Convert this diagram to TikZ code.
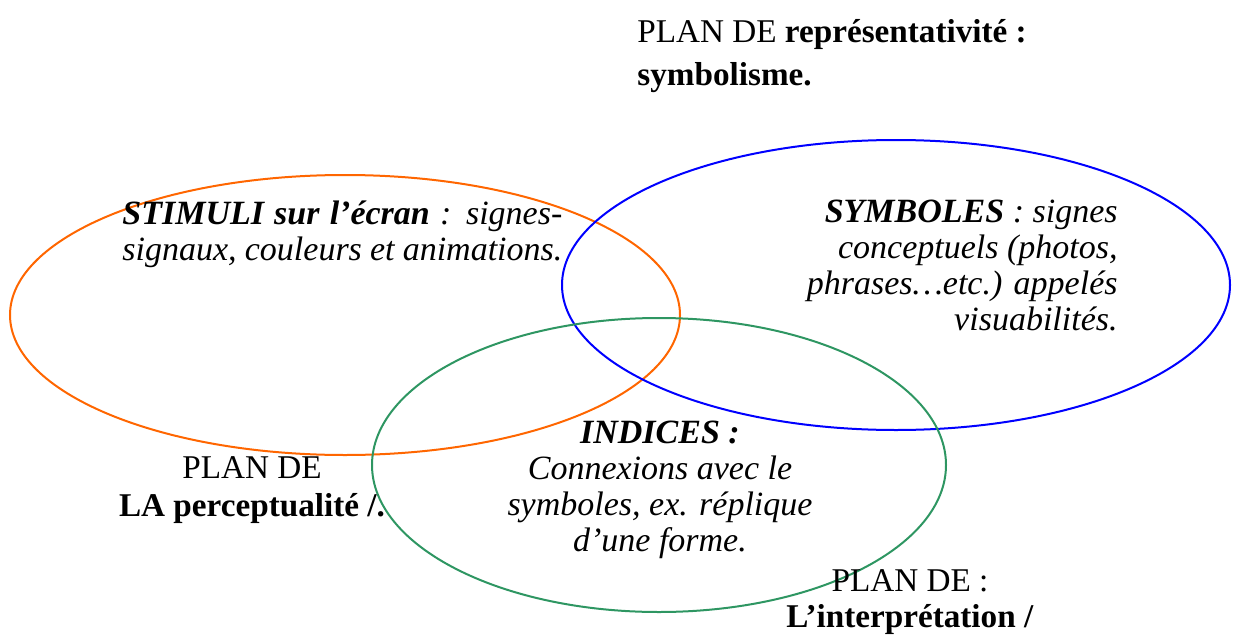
\documentclass[tikz,border=0pt]{standalone}
\usepackage{fontspec}
\setmainfont{Liberation Serif}
\definecolor{stimorange}{RGB}{255,102,0}
\definecolor{symblue}{RGB}{0,0,255}
\definecolor{indgreen}{RGB}{46,150,98}

\begin{document}
\begin{tikzpicture}[x=0.5pt,y=-0.5pt,
    plane/.style={line width=1pt},
    txt/.style={inner sep=0pt, font=\fontsize{17}{18}\selectfont\itshape},
    plantxt/.style={inner sep=0pt, font=\fontsize{16.6}{21.5}\selectfont}]

    \useasboundingbox (0,0) rectangle (1237,637);

    % Ellipses
    \draw[plane, stimorange] (345,315) ellipse [x radius=167.5pt, y radius=70pt];
    \draw[plane, symblue] (896,285) ellipse [x radius=167pt, y radius=72.5pt];
    \draw[plane, indgreen] (659,465) ellipse [x radius=143.5pt, y radius=73.5pt];

    % top plan
    \node[plantxt, anchor=north west, align=left] (planrep) at (637,19)
        {PLAN DE \textbf{représentativité :}\\\textbf{symbolisme.}};

    % text in the ellipses
    \node[txt, anchor=north west, text width=220pt, align=justify] (stimuli) at (122,200)
        {\textbf{STIMULI sur l’écran} : signes-\linebreak signaux, couleurs et animations.};

    \node[txt, anchor=north east, align=right] (symboles) at (1118,200)
        {\textbf{SYMBOLES} : signes\\conceptuels (photos,\\phrases…etc.) appelés\\visuabilités.};

    \node[txt, anchor=north, align=center] (indices) at (660,421)
        {\textbf{INDICES :}\\Connexions avec le\\symboles, ex. réplique\\d’une forme.};

    % other plans
    \node[plantxt, anchor=north, align=center, font=\fontsize{16.6}{19}\selectfont] (planperc) at (252,456)
        {PLAN DE\\\textbf{LA perceptualité /.}};

    \node[plantxt, anchor=north, align=center, font=\fontsize{16.6}{18}\selectfont] (planinter) at (910,569)
        {PLAN DE :\\\textbf{L’interprétation /}};

\end{tikzpicture}
\end{document}
